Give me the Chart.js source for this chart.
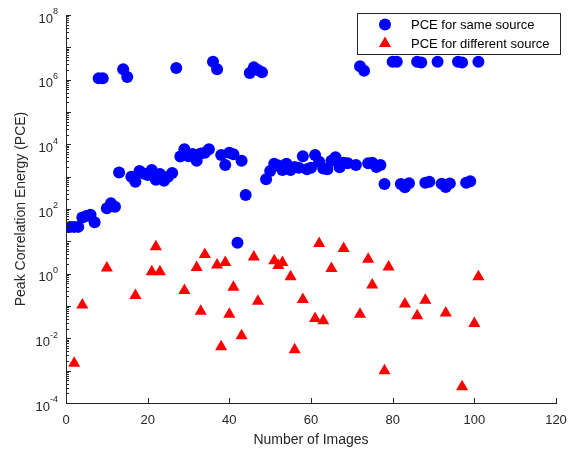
<!DOCTYPE html>
<html>
<head>
<meta charset="utf-8">
<script src="https://cdn.jsdelivr.net/npm/chart.js@4.4.1/dist/chart.umd.min.js"></script>
<style>
  html, body { margin: 0; padding: 0; background: #fff; }
  canvas { display: block; }
</style>
</head>
<body>
<canvas id="pce" width="570" height="451"></canvas>
<script>
// PCE for same source (image number / value)
var sameX = [1, 2, 3, 4, 5, 6, 7, 8, 9, 10, 11, 12, 13, 14, 15, 16, 17, 18, 19, 20,
    21, 22, 23, 24, 25, 26, 27, 28, 29, 30, 31, 32, 33, 34, 35, 36, 37, 38, 39, 40,
    41, 42, 43, 44, 45, 46, 47, 48, 49, 50, 51, 52, 53, 54, 55, 56, 57, 58, 59, 60,
    61, 62, 63, 64, 65, 66, 67, 68, 69, 71, 72, 73, 74, 75, 76, 77, 78, 80, 81, 82,
    83, 84, 86, 87, 88, 89, 91, 92, 93, 94, 96, 97, 98, 99, 101];
var sameY = [28, 28, 28, 55, 61, 66, 39, 1.1e6, 1.1e6, 105, 150, 118, 1350, 2.1e6, 1.2e6, 1000, 700, 1500, 1250, 1120,
    1600, 800, 1200, 750, 1000, 1300, 2.3e6, 4200, 7000, 4300, 5000, 3100, 5200, 5500, 7100, 3.6e6, 2.1e6, 4700, 2300, 5500,
    4900, 9, 3100, 270, 1.6e6, 2.4e6, 2.0e6, 1.7e6, 830, 1500, 2500, 2200, 1600, 2500, 1600, 2000, 1900, 4300, 1700, 1900,
    4700, 2900, 1800, 1700, 3100, 4000, 1950, 2700, 2600, 2300, 2.6e6, 1.9e6, 2600, 2700, 2000, 2300, 590, 3.6e6, 3.6e6, 590,
    470, 630, 3.6e6, 3.4e6, 650, 700, 3.6e6, 600, 480, 620, 3.6e6, 3.4e6, 650, 720, 3.6e6];

// PCE for different source
var diffX = [2, 4, 10, 17, 21, 22, 23, 29, 32, 33, 34, 37, 38, 39, 40, 41, 43, 46, 47, 51,
    52, 53, 55, 56, 58, 61, 62, 63, 65, 68, 72, 74, 75, 78, 79, 83, 86, 88, 93, 97,
    100, 101];
var diffY = [1.7e-3, 0.107, 1.5, 0.21, 1.15, 6.8, 1.15, 0.30, 1.55, 0.069, 3.9, 1.85, 5.5e-3, 2.2, 0.056, 0.38, 0.012, 3.3, 0.14, 2.5,
    1.8, 2.2, 0.8, 4.4e-3, 0.16, 0.041, 8.5, 0.035, 1.45, 6.0, 0.056, 2.8, 0.45, 1.0e-3, 1.6, 0.115, 0.050, 0.15, 0.061, 3.2e-4,
    0.029, 0.81];

var xTicks = [0, 20, 40, 60, 80, 100, 120];
var yLabelExps = [8, 6, 4, 2, 0, -2, -4];
var seriesLabels = ['PCE for same source', 'PCE for different source'];

var axisColor = '#262626';
var fontFamily = '"Liberation Sans", Arial, Helvetica, sans-serif';
Chart.defaults.font.family = fontFamily;

function toPoints(xs, ys) {
    return xs.map(function(x, i) { return { x: x, y: ys[i] }; });
}

function drawMarker(ctx, style, x, y, r) {
    ctx.beginPath();
    if (style === 'triangle') {
        ctx.moveTo(x, y - r);
        ctx.lineTo(x + r * Math.sin(Math.PI * 2 / 3), y - r * Math.cos(Math.PI * 2 / 3));
        ctx.lineTo(x + r * Math.sin(Math.PI * 4 / 3), y - r * Math.cos(Math.PI * 4 / 3));
        ctx.closePath();
    } else {
        ctx.arc(x, y, r, 0, Math.PI * 2);
    }
    ctx.fill();
}

// MATLAB-style inward ticks, superscript log labels and boxed legend
var matlabAxes = {
    id: 'matlabAxes',
    afterDraw: function(chart) {
        var ctx = chart.ctx;
        var xs = chart.scales.x, ys = chart.scales.y, area = chart.chartArea;
        ctx.save();
        ctx.strokeStyle = axisColor;
        ctx.lineWidth = 1;
        ctx.beginPath();
        xTicks.forEach(function(v) {
            var px = Math.round(xs.getPixelForValue(v)) + 0.5;
            ctx.moveTo(px, area.bottom);
            ctx.lineTo(px, area.bottom - 5);
        });
        for (var e = -4; e <= 8; e++) {
            for (var k = 1; k <= 9; k++) {
                if (e === 8 && k > 1) break;
                var py = Math.round(ys.getPixelForValue(k * Math.pow(10, e))) + 0.5;
                ctx.moveTo(area.left, py);
                ctx.lineTo(area.left + (k === 1 ? 5 : 3), py);
            }
        }
        ctx.stroke();

        // y tick labels as 10 with a raised exponent
        ctx.fillStyle = axisColor;
        ctx.textBaseline = 'middle';
        ctx.textAlign = 'left';
        yLabelExps.forEach(function(e) {
            var py = ys.getPixelForValue(Math.pow(10, e));
            var exp = String(e);
            ctx.font = '9px ' + fontFamily;
            var ew = ctx.measureText(exp).width;
            ctx.font = '13px ' + fontFamily;
            var bw = ctx.measureText('10').width;
            var right = area.left - 8;
            ctx.fillText('10', right - ew - bw, py + 4);
            ctx.font = '9px ' + fontFamily;
            ctx.fillText(exp, right - ew, py - 3);
        });

        // legend box
        var bx = 357.5, by = 13.5, bw2 = 203, bh = 41;
        ctx.fillStyle = '#fff';
        ctx.fillRect(bx, by, bw2, bh);
        ctx.strokeStyle = axisColor;
        ctx.strokeRect(bx, by, bw2, bh);
        ctx.font = '13px ' + fontFamily;
        chart.data.datasets.forEach(function(ds, i) {
            var ly = 24.5 + i * 19;
            ctx.fillStyle = ds.backgroundColor;
            drawMarker(ctx, ds.pointStyle, 385, ly, ds.pointRadius);
            ctx.fillStyle = '#000';
            ctx.fillText(ds.label, 411, ly + 0.5);
        });
        ctx.restore();
    }
};

var ctx = document.getElementById('pce');
var myChart = new Chart(ctx, {
    type: 'scatter',
    data: {
        datasets: [
            {
                label: seriesLabels[0],
                data: toPoints(sameX, sameY),
                pointStyle: 'circle',
                pointRadius: 6,
                backgroundColor: '#0000ff',
                borderColor: '#0000ff',
                borderWidth: 0
            },
            {
                label: seriesLabels[1],
                data: toPoints(diffX, diffY),
                pointStyle: 'triangle',
                pointRadius: 7,
                backgroundColor: '#ff0000',
                borderColor: '#ff0000',
                borderWidth: 0
            }
        ]
    },
    options: {
        responsive: false,
        animation: false,
        layout: { padding: { left: 0, right: 14, top: 15, bottom: 0 } },
        plugins: {
            legend: { display: false },
            tooltip: { enabled: false }
        },
        scales: {
            x: {
                type: 'linear',
                min: 0,
                max: 120,
                grid: { display: false },
                border: { display: true, color: axisColor, width: 1 },
                ticks: { stepSize: 20, color: axisColor, font: { size: 13 }, padding: 2 },
                title: {
                    display: true,
                    text: 'Number of Images',
                    color: axisColor,
                    font: { size: 14 },
                    padding: { top: 0, bottom: 2.6 }
                },
                afterFit: function(scale) { scale.height = 48; }
            },
            y: {
                type: 'logarithmic',
                min: 1e-4,
                max: 1e8,
                grid: { display: false },
                border: { display: true, color: axisColor, width: 1 },
                ticks: { display: false },
                title: {
                    display: true,
                    text: 'Peak Correlation Energy (PCE)',
                    color: axisColor,
                    font: { size: 14 },
                    padding: { top: 12.6, bottom: 0 }
                },
                afterFit: function(scale) { scale.width = 66; }
            }
        }
    },
    plugins: [matlabAxes]
});
</script>
</body>
</html>
